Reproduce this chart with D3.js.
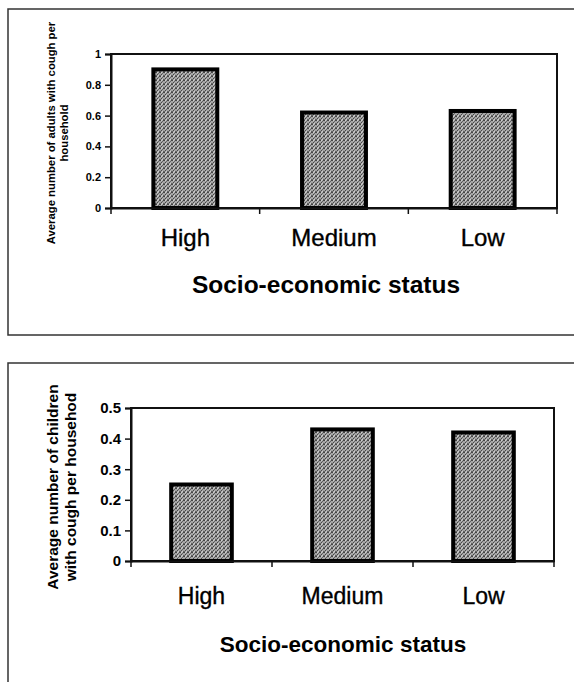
<!DOCTYPE html>
<html>
<head>
<meta charset="utf-8">
<script src="https://cdn.jsdelivr.net/npm/d3@7"></script>
<style>
  body { margin: 0; background: #fff; }
  svg { display: block; }
</style>
</head>
<body>
<svg id="chart" width="574" height="682"></svg>
<script>
// data
var categories = ['High', 'Medium', 'Low'];
var adultValues = [0.9, 0.62, 0.63];
var childValues = [0.25, 0.43, 0.42];
var adultTicks = [0, 0.2, 0.4, 0.6, 0.8, 1];
var childTicks = [0, 0.1, 0.2, 0.3, 0.4, 0.5];
var adultLabel = ['Average number of adults with cough per', 'household'];
var childLabel = ['Average number of children', 'with cough per househod'];
var xTitle = 'Socio-economic status';

var svg = d3.select('#chart');
var sans = 'Liberation Sans, Arial, sans-serif';

// stippled grey like the photocopied bars
var defs = svg.append('defs');
var pat = defs.append('pattern')
  .attr('id', 'stipple')
  .attr('width', 4).attr('height', 4)
  .attr('patternUnits', 'userSpaceOnUse');
pat.append('rect').attr('width', 4).attr('height', 4).attr('fill', '#a6a6a6');
[[0, 0], [2, 1], [1, 2], [3, 3], [3, 0], [0, 3]].forEach(function (p, i) {
  pat.append('rect')
    .attr('x', p[0]).attr('y', p[1]).attr('width', 1).attr('height', 1)
    .attr('fill', i % 2 ? '#636363' : '#474747');
});
[[1, 0], [2, 3]].forEach(function (p) {
  pat.append('rect')
    .attr('x', p[0]).attr('y', p[1]).attr('width', 1).attr('height', 1)
    .attr('fill', '#cfcfcf');
});

// outer frames of the two figures (cut off at the right / bottom of the scan)
svg.append('rect')
  .attr('x', 8).attr('y', 9).attr('width', 580).attr('height', 326)
  .attr('fill', 'none').attr('stroke', '#333').attr('stroke-width', 1.5);
svg.append('rect')
  .attr('x', 8).attr('y', 363).attr('width', 580).attr('height', 340)
  .attr('fill', 'none').attr('stroke', '#333').attr('stroke-width', 1.5);

function drawPanel(opt) {
  var x = d3.scaleBand()
    .domain(categories)
    .range([opt.left, opt.right])
    .paddingInner(0.57)
    .paddingOuter(0.285);

  var y = d3.scaleLinear()
    .domain([0, d3.max(opt.ticks)])
    .range([opt.bottom, opt.top]);

  var g = svg.append('g');

  // plot area box
  g.append('rect')
    .attr('x', opt.left).attr('y', opt.top)
    .attr('width', opt.right - opt.left).attr('height', opt.bottom - opt.top)
    .attr('fill', 'none').attr('stroke', '#111').attr('stroke-width', 2);

  // bars
  g.selectAll('rect.bar')
    .data(opt.values)
    .enter().append('rect')
    .attr('class', 'bar')
    .attr('x', function (d, i) { return x(categories[i]); })
    .attr('y', function (d) { return y(d); })
    .attr('width', x.bandwidth())
    .attr('height', function (d) { return opt.bottom - y(d); })
    .attr('fill', 'url(#stipple)')
    .attr('stroke', '#000')
    .attr('stroke-width', 4);

  // y axis
  var yAxis = d3.axisLeft(y)
    .tickValues(opt.ticks)
    .tickSize(6)
    .tickPadding(4)
    .tickFormat(function (d) { return String(+d.toFixed(1)); });
  var ya = g.append('g')
    .attr('transform', 'translate(' + opt.left + ',0)')
    .call(yAxis);
  ya.select('.domain').attr('stroke', '#111').attr('stroke-width', 2);
  ya.selectAll('.tick line').attr('stroke', '#111').attr('stroke-width', 1.5);
  ya.selectAll('.tick text')
    .attr('fill', '#000')
    .style('font-family', sans)
    .style('font-size', opt.tickSize + 'px')
    .style('font-weight', 'bold');

  // x axis: ticks between categories, labels under bars
  var xa = g.append('g')
    .attr('transform', 'translate(0,' + opt.bottom + ')')
    .call(d3.axisBottom(x).tickSize(0).tickPadding(opt.catPad));
  xa.select('.domain').attr('stroke', '#111').attr('stroke-width', 2);
  xa.selectAll('.tick text')
    .attr('fill', '#000')
    .attr('stroke', '#000').attr('stroke-width', 0.35)
    .style('font-family', sans)
    .style('font-size', opt.catSize + 'px');

  var bounds = d3.range(categories.length + 1).map(function (i) {
    return opt.left + i * x.step();
  });
  xa.selectAll('line.sep')
    .data(bounds)
    .enter().append('line')
    .attr('class', 'sep')
    .attr('x1', function (d) { return d; })
    .attr('x2', function (d) { return d; })
    .attr('y1', 0).attr('y2', 6)
    .attr('stroke', '#111').attr('stroke-width', 1.5);

  // x title
  g.append('text')
    .attr('x', opt.titleX)
    .attr('y', opt.titleY)
    .attr('text-anchor', 'middle')
    .attr('fill', '#000')
    .style('font-family', sans)
    .style('font-weight', 'bold')
    .style('font-size', opt.titleSize + 'px')
    .text(xTitle);

  // y title, two rotated lines
  var yt = g.append('text')
    .attr('transform', 'translate(' + opt.labelX + ',' + opt.labelY + ') rotate(-90)')
    .attr('text-anchor', 'middle')
    .attr('fill', '#000')
    .style('font-family', sans)
    .style('font-weight', 'bold')
    .style('font-size', opt.labelSize + 'px');
  yt.selectAll('tspan')
    .data(opt.label)
    .enter().append('tspan')
    .attr('x', 0)
    .attr('dy', function (d, i) { return i === 0 ? 0 : opt.labelGap; })
    .text(function (d) { return d; });
}

drawPanel({
  values: adultValues, ticks: adultTicks, label: adultLabel,
  left: 111, right: 557, top: 54, bottom: 208,
  tickSize: 11,
  catSize: 24, catPad: 21,
  titleX: 326, titleY: 293, titleSize: 24.5,
  labelX: 55, labelY: 133, labelGap: 13, labelSize: 11.3
});

drawPanel({
  values: childValues, ticks: childTicks, label: childLabel,
  left: 131, right: 554, top: 408, bottom: 561,
  tickSize: 15,
  catSize: 23, catPad: 27,
  titleX: 343, titleY: 652, titleSize: 22.5,
  labelX: 58, labelY: 487, labelGap: 18, labelSize: 15.5
});
</script>
</body>
</html>
